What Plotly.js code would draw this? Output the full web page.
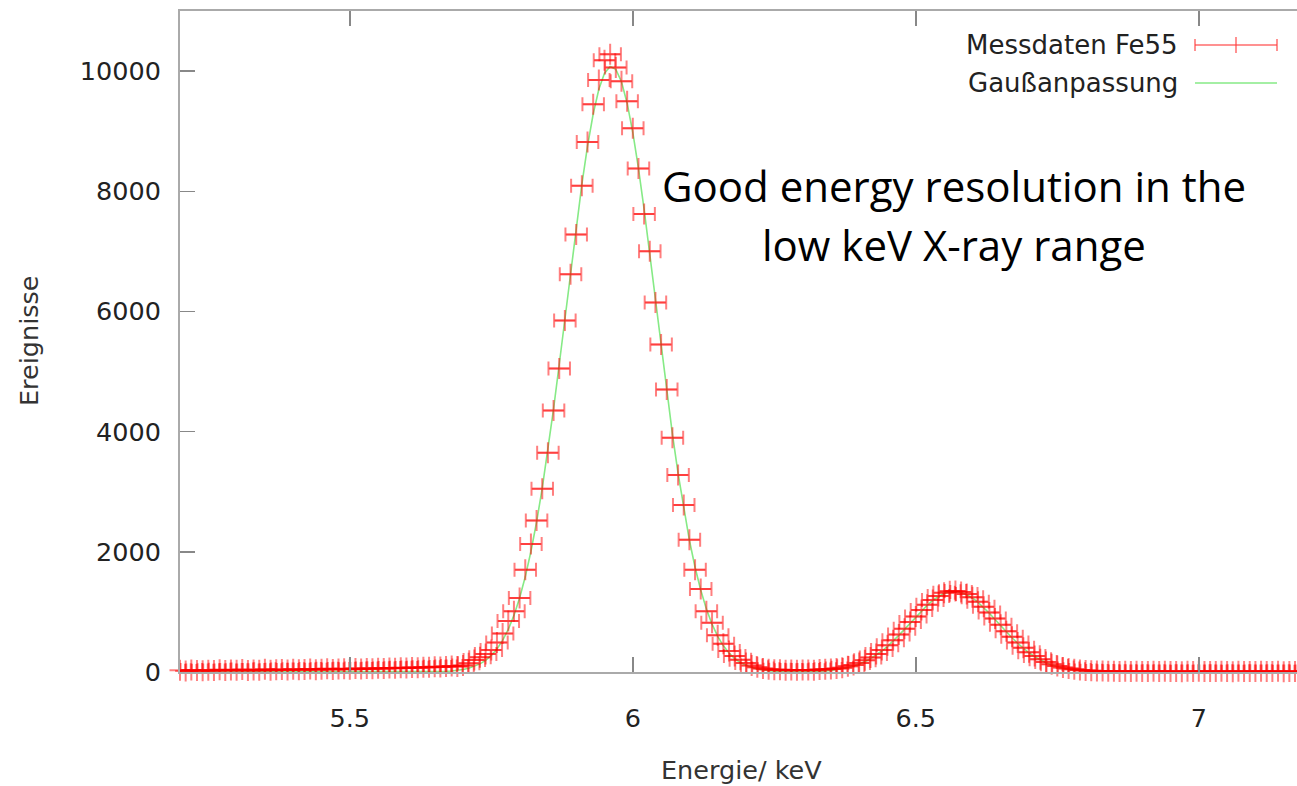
<!DOCTYPE html>
<html>
<head>
<meta charset="utf-8">
<script src="https://cdn.plot.ly/plotly-3.0.1.min.js"></script>
<style>
html,body{margin:0;padding:0;overflow:hidden;background:#fff;}
#chart{width:1313px;height:786px;}
</style>
</head>
<body>
<div id="chart"></div>
<script>
// Energy bins (keV)
const energy = [
5.19,5.20,5.21,5.22,5.23,5.24,5.25,5.26,5.27,5.28,
5.29,5.30,5.31,5.32,5.33,5.34,5.35,5.36,5.37,5.38,
5.39,5.40,5.41,5.42,5.43,5.44,5.45,5.46,5.47,5.48,
5.49,5.50,5.51,5.52,5.53,5.54,5.55,5.56,5.57,5.58,
5.59,5.60,5.61,5.62,5.63,5.64,5.65,5.66,5.67,5.68,
5.69,5.70,5.71,5.72,5.73,5.74,5.75,5.76,5.77,5.78,
5.79,5.80,5.81,5.82,5.83,5.84,5.85,5.86,5.87,5.88,
5.89,5.90,5.91,5.92,5.93,5.94,5.95,5.96,5.97,5.98,
5.99,6.00,6.01,6.02,6.03,6.04,6.05,6.06,6.07,6.08,
6.09,6.10,6.11,6.12,6.13,6.14,6.15,6.16,6.17,6.18,
6.19,6.20,6.21,6.22,6.23,6.24,6.25,6.26,6.27,6.28,
6.29,6.30,6.31,6.32,6.33,6.34,6.35,6.36,6.37,6.38,
6.39,6.40,6.41,6.42,6.43,6.44,6.45,6.46,6.47,6.48,
6.49,6.50,6.51,6.52,6.53,6.54,6.55,6.56,6.57,6.58,
6.59,6.60,6.61,6.62,6.63,6.64,6.65,6.66,6.67,6.68,
6.69,6.70,6.71,6.72,6.73,6.74,6.75,6.76,6.77,6.78,
6.79,6.80,6.81,6.82,6.83,6.84,6.85,6.86,6.87,6.88,
6.89,6.90,6.91,6.92,6.93,6.94,6.95,6.96,6.97,6.98,
6.99,7.00,7.01,7.02,7.03,7.04,7.05,7.06,7.07,7.08,
7.09,7.10,7.11,7.12,7.13,7.14,7.15,7.16,7.17,7.18,
7.19
];

// Measured counts (Messdaten Fe55)
const counts = [
22,30,18,35,26,20,31,27,38,24,
33,29,40,26,35,31,44,30,38,42,
33,47,36,41,50,39,46,53,42,49,
55,47,58,51,60,54,63,57,66,61,
70,67,74,72,80,78,86,84,92,101,
92,110,145,200,245,300,366,490,640,850,
1010,1230,1700,2130,2520,3050,3650,4350,5050,5850,
6620,7280,8090,8820,9450,9850,10180,10280,10060,9830,
9500,9050,8380,7620,7000,6150,5450,4700,3900,3280,
2780,2200,1700,1380,1010,820,610,470,350,265,
205,150,110,80,60,45,36,38,30,34,
28,32,35,30,40,44,52,60,72,95,
118,150,195,240,300,365,445,530,625,720,
830,925,1030,1120,1200,1265,1320,1345,1350,1330,
1300,1245,1170,1085,990,890,785,680,585,490,
405,330,268,212,165,128,98,75,57,44,
34,27,22,18,15,13,12,9,14,8,
11,10,7,13,9,12,8,10,6,11,
9,13,7,10,8,12,9,6,11,8,
10,7,12,9,8,11,6,10,9,7,
10
];

// Gaussian fit (Gaußanpassung)
const fitCurve = [
0,0,0,0,0,0,0,0,0,0,
0,0,0,0,0,0,0,0,0,0,
0,0,0,0,0,0,0,0,0,0,
0,0,0,0,0,0,0,0,0,0,
0.2,0.3,0.5,0.9,1.5,2.5,4.1,6.7,10.9,17.2,
27,41,62,92,135,194,275,384,526,709,
942,1231,1584,2005,2496,3060,3690,4380,5117,5882,
6654,7408,8116,8751,9286,9697,9964,10077,10029,9822,
9466,8978,8381,7699,6959,6191,5420,4670,3959,3304,
2713,2192,1743,1364,1050,796,594,436,315,224,
157,108,73,49,32,21,13,8,5,4.5,
4.3,4.7,6.2,9,13,18.7,26.9,38.3,53.5,73.4,
99,132,172,222,280,349,427,514,609,709,
813,916,1016,1109,1190,1256,1305,1333,1340,1324,
1288,1232,1159,1073,977,875,771,668,570,478,
394,320,256,201,155,118,88,65,47,33,
23,16,11,7,5,3,2,1,0.5,0.3,
0,0,0,0,0,0,0,0,0,0,
0,0,0,0,0,0,0,0,0,0,
0,0,0,0,0,0,0,0,0,0,
0
];

const xTicks = [5.5, 6, 6.5, 7];
const xTickText = ['5.5', '6', '6.5', '7'];
const yTicks = [0, 2000, 4000, 6000, 8000, 10000];
const yTickText = ['0', '2000', '4000', '6000', '8000', '10000'];

const seriesNames = ['Messdaten Fe55', 'Gaußanpassung'];
const xTitle = 'Energie/ keV';
const yTitle = 'Ereignisse';
const noteLines = ['Good energy resolution in the', 'low keV X-ray range'];

const RED = 'rgba(255,0,0,0.5)';
const GREEN = '#86ea86';
const FONT = 'DejaVu Sans, Verdana, sans-serif';

// pixel helpers for the plot area (left 180, right 1312, top 11, bottom 672)
const PL = 180, PW = 1132, PT = 11, PH = 661;
const px = p => (p - PL) / PW;
const py = p => (PT + PH - p) / PH;

const traces = [
  {
    x: energy, y: fitCurve, type: 'scatter', mode: 'lines', name: seriesNames[1],
    line: {color: GREEN, width: 1.6}, showlegend: false, hoverinfo: 'skip'
  },
  {
    x: energy, y: counts, type: 'scatter', mode: 'markers', name: seriesNames[0],
    marker: {symbol: 'cross-thin', size: 15, color: RED, line: {color: RED, width: 2}},
    error_x: {type: 'constant', value: 0.019, color: RED, thickness: 2, width: 7},
    cliponaxis: false, showlegend: false
  }
];

const legY1 = 45, legY2 = 83;
const LRED = 'rgba(255,60,60,0.75)';
const shapes = [
  // error-bar legend sample
  {type:'line', xref:'paper', yref:'paper', x0:px(1195), x1:px(1277), y0:py(legY1), y1:py(legY1), line:{color:LRED, width:1.5}},
  {type:'line', xref:'paper', yref:'paper', x0:px(1195), x1:px(1195), y0:py(legY1-6), y1:py(legY1+6), line:{color:LRED, width:1.5}},
  {type:'line', xref:'paper', yref:'paper', x0:px(1277), x1:px(1277), y0:py(legY1-6), y1:py(legY1+6), line:{color:LRED, width:1.5}},
  {type:'line', xref:'paper', yref:'paper', x0:px(1236), x1:px(1236), y0:py(legY1-8), y1:py(legY1+8), line:{color:LRED, width:1.5}},
  // fit legend sample
  {type:'line', xref:'paper', yref:'paper', x0:px(1195), x1:px(1277), y0:py(legY2), y1:py(legY2), line:{color:GREEN, width:1.6}}
];

const annotations = [
  {xref:'paper', yref:'paper', x:px(1180), y:py(legY1), xanchor:'right', yanchor:'middle', showarrow:false,
   text: seriesNames[0], font:{family:FONT, size:26, color:'#222'}},
  {xref:'paper', yref:'paper', x:px(1180), y:py(legY2), xanchor:'right', yanchor:'middle', showarrow:false,
   text: seriesNames[1], font:{family:FONT, size:26, color:'#222'}},
  {xref:'paper', yref:'paper', x:px(954), y:py(185), xanchor:'center', yanchor:'middle', showarrow:false,
   text: noteLines[0], font:{family:'Open Sans, sans-serif', size:42, color:'#000'}},
  {xref:'paper', yref:'paper', x:px(954), y:py(244), xanchor:'center', yanchor:'middle', showarrow:false,
   text: noteLines[1], font:{family:'Open Sans, sans-serif', size:42, color:'#000'}},
  {xref:'paper', yref:'paper', x:px(741), y:py(770), xanchor:'center', yanchor:'middle', showarrow:false,
   text: xTitle, font:{family:FONT, size:25.5, color:'#333'}},
  {xref:'paper', yref:'paper', x:px(29), y:py(341), xanchor:'center', yanchor:'middle', showarrow:false, textangle:-90,
   text: yTitle, font:{family:FONT, size:25.5, color:'#333'}}
];

const layout = {
  width: 1313, height: 786,
  margin: {l: 180, r: 1, t: 11, b: 114, pad: 0},
  paper_bgcolor: '#fff', plot_bgcolor: '#fff',
  showlegend: false,
  font: {family: FONT, size: 25, color: '#222'},
  xaxis: {
    range: [5.2, 7.2], tickvals: xTicks, ticktext: xTickText,
    ticks: 'inside', ticklen: 15, tickwidth: 1.5, tickcolor: '#888',
    showline: true, linecolor: '#aaa', linewidth: 2, mirror: 'ticks',
    showgrid: false, zeroline: false, ticklabelstandoff: 22,
    tickfont: {family: FONT, size: 25.5, color: '#222'}
  },
  yaxis: {
    range: [0, 11000], tickvals: yTicks, ticktext: yTickText,
    ticks: 'inside', ticklen: 15, tickwidth: 1.5, tickcolor: '#888',
    showline: true, linecolor: '#aaa', linewidth: 2, mirror: 'ticks',
    showgrid: false, zeroline: false, ticklabelstandoff: 12,
    tickfont: {family: FONT, size: 25.5, color: '#222'}
  },
  shapes: shapes,
  annotations: annotations
};

Plotly.newPlot('chart', traces, layout, {displayModeBar: false, staticPlot: true});
</script>
</body>
</html>
